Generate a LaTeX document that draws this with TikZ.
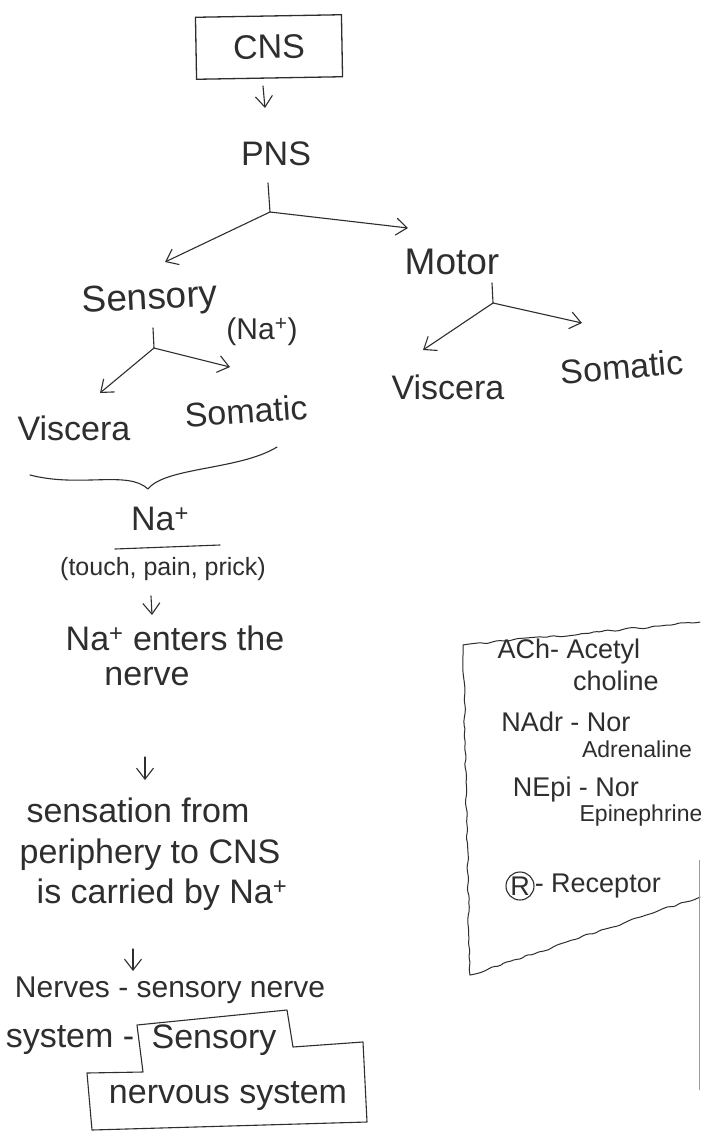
\documentclass[tikz,border=0pt]{standalone}
\usepackage{fontspec}
\setmainfont{Liberation Sans}
\usetikzlibrary{arrows.meta,decorations.pathmorphing}
\definecolor{ink}{HTML}{2E2E2E}
\definecolor{faint}{HTML}{9A9A9A}
\begin{document}
\pgfmathsetseed{11}
\begin{tikzpicture}[x=1pt,y=-1pt,
  txt/.style={text=ink, inner sep=0pt, font=\fontsize{34}{40}\selectfont},
  bigtxt/.style={txt, font=\fontsize{37}{42}\selectfont},
  smalltxt/.style={txt, font=\fontsize{30}{34}\selectfont},
  notetxt/.style={txt, font=\fontsize{25}{30}\selectfont},
  legtxt/.style={txt, font=\fontsize{27}{30}\selectfont},
  legsub/.style={txt, font=\fontsize{23}{26}\selectfont},
  pen/.style={draw=ink, line width=1.1pt, line cap=round, line join=round},
  arr/.style={pen, -{Straight Barb[length=11pt,width=17pt]}},
  wavy/.style={pen, line width=1pt, rounded corners=2pt, decorate,
    decoration={random steps, segment length=6pt, amplitude=1.3pt}},
]
\useasboundingbox (0,0) rectangle (701,1136);
\fill[white] (0,0) rectangle (701,1136);

% ---- top of the tree ----
\node[txt, draw=ink, line width=1.3pt, minimum width=146pt, minimum height=62pt, rotate=1] (cns) at (269,47) {CNS};
\node[txt] (pns) at (276,154) {PNS};
\coordinate (a1t) at (263,86);
\coordinate (a1h) at (265,108);
\draw[arr] (a1t) -- (a1h);

\coordinate (pnstop) at (268,183);
\coordinate (pnsjoin) at (270,212);
\coordinate (pnsl) at (165,262);
\coordinate (pnsr) at (408,228);
\draw[pen] (pnstop) -- (pnsjoin);
\draw[arr] (pnsjoin) -- (pnsl);
\draw[arr] (pnsjoin) -- (pnsr);

% ---- motor branch ----
\node[bigtxt] (motor) at (452,262) {Motor};
\coordinate (mtop) at (492,283);
\coordinate (mjoin) at (493,303);
\coordinate (ml) at (423,350);
\coordinate (mr) at (582,323);
\draw[pen] (mtop) -- (mjoin);
\draw[arr] (mjoin) -- (ml);
\draw[arr] (mjoin) -- (mr);
\node[txt] (mvisc) at (448,387) {Viscera};
\node[txt, rotate=5] (msoma) at (622,367) {Somatic};

% ---- sensory branch ----
\node[bigtxt, rotate=3] (sens) at (150,300) {Sensory};
\node[smalltxt] (sna) at (262,332) {(Na\textsuperscript{+})};
\coordinate (stop) at (153,328);
\coordinate (sjoin) at (154,348);
\coordinate (sl) at (100,393);
\coordinate (sr) at (230,367);
\draw[pen] (stop) -- (sjoin);
\draw[arr] (sjoin) -- (sl);
\draw[arr] (sjoin) -- (sr);
\node[txt] (svisc) at (74,428) {Viscera};
\node[txt, rotate=4] (ssoma) at (246,411) {Somatic};

% brace under both sensory kinds
\draw[pen] (30,475) .. controls (80,488) and (128,470) .. (148,489)
           .. controls (165,467) and (240,470) .. (277,447);

% ---- sodium pathway ----
\node[txt] (na) at (160,519) {Na\textsuperscript{+}};
\draw[pen] (115,549) -- (220,545);
\node[notetxt] (stim) at (163,569) {(touch, pain, prick)};
\coordinate (a2t) at (151,596);
\coordinate (a2h) at (152,615);
\draw[arr] (a2t) -- (a2h);
\node[txt] (enter) at (175,638) {Na\textsuperscript{+} enters the};
\node[txt] (nerve) at (147,677) {nerve};
\coordinate (a3t) at (145,757);
\coordinate (a3h) at (145,780);
\draw[arr] (a3t) -- (a3h);
\node[txt] (sensa) at (138,810) {sensation from};
\node[txt] (periph) at (150,855) {periphery to CNS};
\node[txt] (carry) at (162,895) {is carried by Na\textsuperscript{+}};
\coordinate (a4t) at (133,949);
\coordinate (a4h) at (133,971);
\draw[arr] (a4t) -- (a4h);
\node[txt, font=\fontsize{30}{34}\selectfont] (nerves) at (170,990) {Nerves - sensory nerve};
\node[txt] (system) at (70,1040) {system -};
\node[txt] (sensb) at (214,1040) {Sensory};
\node[txt] (nervsys) at (228,1096) {nervous system};
\draw[pen] (137,1025) -- (287,1010) -- (293,1047) -- (363,1042) -- (367,1122)
           -- (92,1130) -- (87,1073) -- (143,1072) -- cycle;

% ---- abbreviations ----
\draw[wavy] (463,645) -- (470,975);
\draw[wavy] (470,975) -- (700,897);
\draw[wavy] (463,645) -- (700,622);
\node[legtxt] (ach) at (569,652) {ACh- Acetyl};
\node[legtxt] (achb) at (616,681) {choline};
\node[legtxt] (nadr) at (566,722) {NAdr - Nor};
\node[legsub] (nadrb) at (637,749) {Adrenaline};
\node[legtxt] (nepi) at (576,790) {NEpi - Nor};
\node[legsub] (nepib) at (641,816) {Epinephrine};
\node[legtxt, draw=ink, line width=1.1pt, circle, minimum size=28pt] (rsym) at (520,886) {R};
\node[legtxt, anchor=west] (rec) at (rsym.east) {- Receptor};

% page edge
\draw[faint, line width=0.8pt] (699,860) -- (699,1090);
\end{tikzpicture}
\end{document}
